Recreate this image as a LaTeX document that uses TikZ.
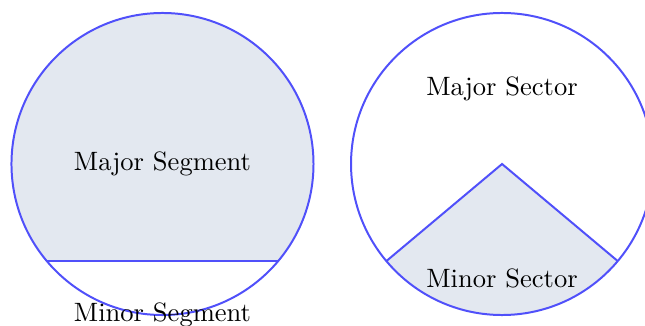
\documentclass[tikz,border=0pt]{standalone}
\usepackage{amsmath}
\usepackage{tikz}
\usetikzlibrary{calc}

\definecolor{rimblue}{RGB}{80,80,250}
\definecolor{paleslate}{RGB}{227,232,240}

\begin{document}
\begin{tikzpicture}[rim/.style={rimblue,line width=0.75pt}]
      \useasboundingbox (-2.152,-2.133) rectangle (6.39,2.172);

      \coordinate (o1) at (0,0);
      \coordinate (o2) at (4.497,0);
      \coordinate (a) at ($(o1)+(220:2)$);
      \coordinate (b) at ($(o1)+(320:2)$);
      \coordinate (c) at ($(o2)+(220:2)$);
      \coordinate (d) at ($(o2)+(320:2)$);

      % segment
      \fill[paleslate] (b) arc (-40:220:2) -- cycle;
      \draw[rim] (o1) circle (2);
      \draw[rim] (a) -- (b);
      \node at (o1) (major) {Major Segment};
      \node at ($(o1)+(0,-2)$) (minor) {Minor Segment};

      % sector
      \fill[paleslate] (o2) -- (c) arc (220:320:2) -- cycle;
      \draw[rim] (o2) circle (2);
      \draw[rim] (c) -- (o2) -- (d);
      \node at ($(o2)+(0,1)$) (majsec) {Major Sector};
      \node at ($(o2)+(0,-1.52)$) (minsec) {Minor Sector};
    \end{tikzpicture}
\end{document}
